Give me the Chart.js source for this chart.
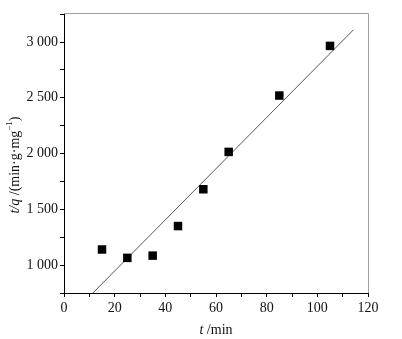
<!DOCTYPE html>
<html>
<head>
<meta charset="utf-8">
<script src="https://cdn.jsdelivr.net/npm/chart.js@4.4.1/dist/chart.umd.min.js"></script>
<style>
  html, body { margin: 0; padding: 0; background: #fff; }
</style>
</head>
<body>
<canvas id="chart" width="402" height="339"></canvas>
<script>
// measured points
const tValues = [15, 25, 35, 45, 55, 65, 85, 105];
const tqValues = [1140, 1065, 1085, 1350, 1680, 2015, 2520, 2965];
// fitted line end points
const fitT = [11.4, 114.3];
const fitTQ = [750, 3110];
// labelled ticks
const xLabels = [0, 20, 40, 60, 80, 100, 120];
const yLabels = [1000, 1500, 2000, 2500, 3000];

const serif = "'Liberation Serif', 'DejaVu Serif', serif";

function fmt(v) {
  const s = String(v);
  return s.length > 3 ? s.slice(0, -3) + " " + s.slice(-3) : s;
}

// major + minor tick positions
const xTickPos = [];
for (let v = 0; v <= 120; v += 10) xTickPos.push(v);
const yTickPos = [];
for (let v = 750; v <= 3250; v += 250) yTickPos.push(v);

// frame on top/right + axis titles with italic parts
const extras = {
  id: "extras",
  beforeDatasetsDraw(chart) {
    const { ctx, chartArea: a } = chart;
    ctx.save();
    ctx.strokeStyle = "#a0a0a0";
    ctx.lineWidth = 1;
    ctx.beginPath();
    ctx.moveTo(a.left, a.top + 0.5);
    ctx.lineTo(a.right + 0.5, a.top + 0.5);
    ctx.lineTo(a.right + 0.5, a.bottom);
    ctx.stroke();
    ctx.restore();
  },
  afterDraw(chart) {
    const { ctx, chartArea: a } = chart;
    const drawParts = (parts, cx, cy) => {
      let total = 0;
      parts.forEach(p => { ctx.font = p.font; total += ctx.measureText(p.text).width; });
      let x = cx - total / 2;
      parts.forEach(p => {
        ctx.font = p.font;
        ctx.fillText(p.text, x, cy + (p.dy || 0));
        x += ctx.measureText(p.text).width;
      });
    };
    ctx.save();
    ctx.fillStyle = "#111";
    ctx.textBaseline = "middle";
    drawParts([
      { text: "t", font: "italic 14px " + serif },
      { text: " /min", font: "14px " + serif }
    ], (a.left + a.right) / 2, 330);

    ctx.translate(15, 165);
    ctx.rotate(-Math.PI / 2);
    drawParts([
      { text: "t/q", font: "italic 14px " + serif },
      { text: " /(min·g·mg", font: "14px " + serif },
      { text: "−1", font: "9px " + serif, dy: -5 },
      { text: ")", font: "14px " + serif }
    ], 0, 0);
    ctx.restore();
  }
};

new Chart(document.getElementById("chart"), {
  type: "scatter",
  data: {
    datasets: [
      {
        data: tValues.map((t, i) => ({ x: t, y: tqValues[i] })),
        pointStyle: "rect",
        pointRadius: 6,
        pointHoverRadius: 6,
        backgroundColor: "#000",
        borderColor: "#000",
        borderWidth: 0
      },
      {
        data: fitT.map((t, i) => ({ x: t, y: fitTQ[i] })),
        showLine: true,
        pointRadius: 0,
        borderColor: "#555",
        borderWidth: 1
      }
    ]
  },
  options: {
    responsive: false,
    animation: false,
    layout: { padding: { top: 13, right: 34, left: 0, bottom: 0 } },
    plugins: { legend: { display: false }, tooltip: { enabled: false } },
    scales: {
      x: {
        type: "linear",
        min: 0,
        max: 120,
        afterFit: s => { s.height = 46; },
        afterBuildTicks: s => { s.ticks = xTickPos.map(v => ({ value: v })); },
        border: { display: true, color: "#000", width: 1 },
        grid: { drawOnChartArea: false, drawTicks: true, tickLength: 4, tickColor: "#000" },
        ticks: {
          padding: 3,
          color: "#111",
          font: { family: serif, size: 14 },
          maxRotation: 0,
          autoSkip: false,
          callback: v => xLabels.includes(v) ? String(v) : ""
        }
      },
      y: {
        type: "linear",
        min: 750,
        max: 3260,
        afterFit: s => { s.width = 64; },
        afterBuildTicks: s => { s.ticks = yTickPos.map(v => ({ value: v })); },
        border: { display: true, color: "#000", width: 1 },
        grid: { drawOnChartArea: false, drawTicks: true, tickLength: 4, tickColor: "#000" },
        ticks: {
          padding: 2,
          color: "#111",
          font: { family: serif, size: 14 },
          autoSkip: false,
          callback: v => yLabels.includes(v) ? fmt(v) : ""
        }
      }
    }
  },
  plugins: [extras]
});
</script>
</body>
</html>
